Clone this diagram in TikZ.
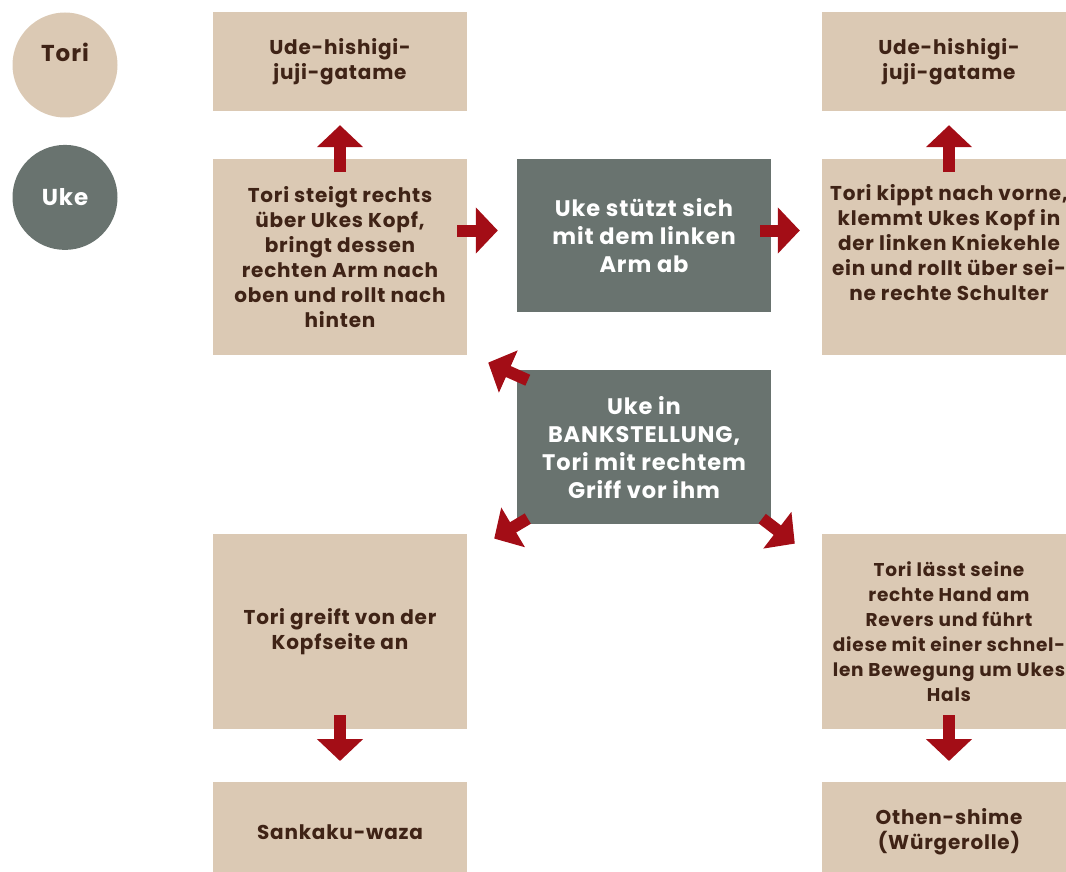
\documentclass[tikz,border=0pt]{standalone}
\usepackage{fontspec}
\setmainfont{Poppins}[LetterSpace=4]
\usetikzlibrary{arrows.meta}
\usetikzlibrary{positioning}

\definecolor{boxtan}{HTML}{DBC9B4}
\definecolor{boxgrey}{HTML}{69736F}
\definecolor{arrowred}{HTML}{A30D16}
\definecolor{textbrown}{HTML}{3F2316}

\begin{document}
\begin{tikzpicture}[
    tanbox/.style={fill=boxtan, text=textbrown, minimum width=254pt, align=center, inner sep=0pt,
        font=\fontsize{20}{25}\selectfont\bfseries},
    greybox/.style={fill=boxgrey, text=white, minimum width=254pt, align=center, inner sep=0pt,
        font=\fontsize{22.5}{28}\selectfont\bfseries},
    role/.style={circle, minimum size=105pt, inner sep=0pt, font=\fontsize{23}{26}\selectfont\bfseries},
    redarrow/.style={draw=arrowred, line width=12pt, -{Triangle[length=22pt, width=45pt]}},
    node distance=48pt
]
    \useasboundingbox (0,0) rectangle (1066pt,-872pt);
    \clip (0,0) rectangle (1066pt,-872pt);

    % Legend
    \node[role, fill=boxtan] (tori) at (65pt,-65pt) {};
    \node[role, minimum size=0pt, text=textbrown] (toritext) at ([yshift=13pt]tori.center) {Tori};
    \node[role, fill=boxgrey, text=white] (uke) [below=27pt of tori] {Uke};

    % Left column
    \node[tanbox, minimum height=99pt] (udh1) at (340pt,-61.5pt) {Ude-hishigi-\\juji-gatame};
    \node[tanbox, minimum height=196pt] (tsr) [below=of udh1] {Tori steigt rechts\\über Ukes Kopf,\\bringt dessen\\rechten Arm nach\\oben und rollt nach\\hinten};
    \node[tanbox, minimum height=195pt] (tgv) [below=178pt of tsr] {Tori greift von der\\Kopfseite an};
    \node[tanbox, minimum height=99pt] (skw) [below=53pt of tgv] {Sankaku-waza};

    % Middle column
    \node[greybox, minimum height=153pt] (uks) at (644pt,-235.5pt) {Uke stützt sich\\mit dem linken\\Arm ab};
    \node[greybox, minimum height=154pt] (bank) [below=58pt of uks] {Uke in\\BANKSTELLUNG,\\Tori mit rechtem\\Griff vor ihm};

    % Right column
    \node[tanbox, minimum height=99pt] (udh2) at (949pt,-61.5pt) {Ude-hishigi-\\juji-gatame};
    \node[tanbox, minimum height=196pt] (tkv) [below=of udh2] {};
    \node[tanbox, fill=none] (tkvtext) at ([yshift=15pt]tkv.center) {Tori kippt nach vorne,\\klemmt Ukes Kopf in\\der linken Kniekehle\\ein und rollt über sei-\\ne rechte Schulter};
    \node[tanbox, minimum height=195pt, font=\fontsize{18.5}{25}\selectfont\bfseries] (tls) [below=178pt of tkv] {Tori lässt seine\\rechte Hand am\\Revers und führt\\diese mit einer schnel-\\len Bewegung um Ukes\\Hals};
    \node[tanbox, minimum height=99pt] (oth) [below=53pt of tls] {Othen-shime\\(Würgerolle)};

    % Arrows
    \draw[redarrow, shorten <=-13pt, shorten >=14pt] (tsr.north) -- (udh1.south);
    \draw[redarrow, shorten <=-13pt, shorten >=14pt] (tkv.north) -- (udh2.south);
    \draw[redarrow, shorten <=-10pt, shorten >=19pt] ([yshift=5pt]tsr.east |- uks.west) -- ([yshift=5pt]uks.west);
    \draw[redarrow, shorten <=-11pt, shorten >=22pt] ([yshift=5pt]uks.east) -- ([yshift=5pt]tkv.west |- uks.east);
    \draw[redarrow, shorten <=-14pt, shorten >=21pt] (tgv.south) -- (skw.north);
    \draw[redarrow, shorten <=-14pt, shorten >=21pt] (tls.south) -- (oth.north);
    \draw[redarrow] ([shift={(11pt,-10pt)}]bank.north west) -- ([shift={(21pt,-7pt)}]tsr.south east);
    \draw[redarrow] ([shift={(11pt,6pt)}]bank.south west) -- ([shift={(27pt,-5pt)}]tgv.north east);
    \draw[redarrow] ([shift={(-9pt,6pt)}]bank.south east) -- ([shift={(-27pt,-10pt)}]tls.north west);

\end{tikzpicture}
\end{document}
